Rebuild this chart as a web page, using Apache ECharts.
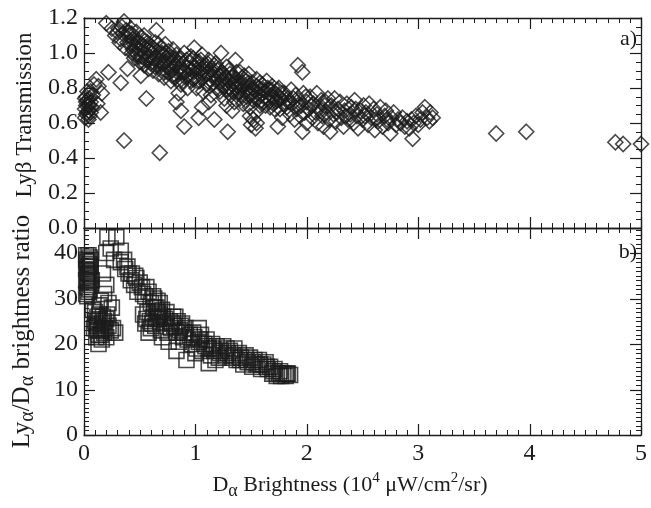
<!DOCTYPE html>
<html>
<head>
<meta charset="utf-8">
<script src="https://cdn.jsdelivr.net/npm/echarts@6/dist/echarts.min.js"></script>
<style>
  html, body { margin: 0; padding: 0; background: #ffffff; }
  #chart { width: 651px; height: 508px; }
</style>
</head>
<body>
<div id="chart"></div>
<script>
// Axis ticks
const brightnessTicks = [0, 1, 2, 3, 4, 5];
const transmissionTicks = [0.0, 0.2, 0.4, 0.6, 0.8, 1.0, 1.2];
const ratioTicks = [0, 10, 20, 30, 40];
const ratioMax = 45.5;

// Panel a) Ly-beta transmission vs D-alpha brightness [brightness, transmission]
const lybTransmission = [
  [0.01,0.68],[0.02,0.72],[0.03,0.66],[0.02,0.75],[0.04,0.70],[0.05,0.64],[0.03,0.78],[0.06,0.72],
  [0.01,0.63],[0.04,0.67],[0.05,0.74],[0.02,0.70],[0.07,0.69],[0.03,0.73],[0.06,0.66],[0.08,0.76],
  [0.04,0.62],[0.02,0.65],[0.05,0.70],[0.01,0.74],
  [0.06,0.78],[0.11,0.85],[0.13,0.81],[0.16,0.77],[0.15,0.66],[0.09,0.82],[0.12,0.71],[0.22,0.89],
  [0.33,0.83],[0.39,0.91],[0.51,0.87],[0.56,0.74],[0.36,0.50],[0.68,0.43],
  [0.20,1.17],[0.28,1.10],[0.30,1.12],[0.33,1.08],[0.36,1.18],[0.38,1.13],[0.39,1.06],[0.42,1.14],
  [0.25,1.14],[0.34,1.15],[0.41,1.10],[0.37,1.03],[0.31,1.14],[0.35,1.11],[0.40,1.12],[0.43,1.11],
  [0.45,1.05],[0.32,1.06],
  [0.42,1.05],[0.43,1.00],[0.44,1.08],[0.45,0.97],[0.46,1.03],[0.47,1.12],[0.48,0.99],[0.49,1.06],
  [0.50,0.95],[0.50,1.02],[0.51,1.09],[0.52,0.98],[0.53,1.04],[0.54,0.93],[0.54,1.10],[0.55,1.00],
  [0.56,0.96],[0.57,1.06],[0.58,0.91],[0.58,1.02],[0.59,0.98],[0.60,1.04],[0.60,0.94],
  [0.44,1.02],[0.46,0.99],[0.48,1.07],[0.50,0.98],[0.52,1.05],[0.53,0.95],[0.55,1.07],[0.57,0.97],
  [0.59,1.03],
  [0.61,1.00],[0.62,0.90],[0.63,0.97],[0.64,1.06],[0.65,1.13],[0.65,0.93],[0.66,1.01],[0.67,0.88],
  [0.68,0.96],[0.69,1.03],[0.70,0.91],[0.71,0.99],[0.72,0.86],[0.72,0.94],[0.73,1.05],[0.74,0.97],
  [0.75,0.89],[0.76,1.01],[0.77,0.93],[0.78,0.84],[0.78,0.98],[0.79,0.90],[0.80,0.95],[0.80,1.02],
  [0.61,0.95],[0.62,1.03],[0.64,0.92],[0.66,0.97],[0.67,1.05],[0.69,0.94],[0.70,1.00],[0.71,0.89],
  [0.73,0.95],[0.74,1.00],[0.76,0.92],[0.77,0.97],[0.79,0.87],
  [0.81,0.88],[0.82,0.93],[0.83,0.99],[0.84,0.85],[0.85,0.91],[0.86,0.96],[0.87,0.82],[0.88,0.89],
  [0.89,0.94],[0.90,1.00],[0.91,0.86],[0.92,0.92],[0.93,0.80],[0.94,0.88],[0.95,0.95],[0.96,0.84],
  [0.97,0.90],[0.98,0.97],[0.99,1.03],[1.00,0.86],[1.00,0.92],
  [0.81,0.97],[0.82,0.86],[0.84,0.94],[0.86,0.89],[0.87,0.97],[0.89,0.84],[0.90,0.90],[0.92,0.96],
  [0.93,0.87],[0.95,0.91],[0.96,0.98],[0.98,0.85],[0.99,0.92],
  [0.83,0.72],[0.87,0.67],[0.90,0.58],[0.85,0.77],
  [1.01,0.80],[1.02,0.89],[1.03,0.95],[1.04,0.84],[1.05,0.91],[1.06,0.99],[1.07,0.78],[1.08,0.87],
  [1.09,0.93],[1.10,0.82],[1.11,0.89],[1.12,0.96],[1.13,0.85],[1.14,0.76],[1.15,0.91],[1.16,0.83],
  [1.17,0.88],[1.18,0.94],[1.19,0.80],[1.20,0.86],
  [1.01,0.95],[1.02,0.84],[1.04,0.90],[1.05,0.96],[1.07,0.86],[1.08,0.92],[1.10,0.88],[1.11,0.94],
  [1.13,0.81],[1.14,0.90],[1.16,0.87],[1.17,0.93],[1.19,0.84],[1.20,0.90],
  [1.03,0.63],[1.06,0.69],[1.17,0.62],[1.12,0.72],[1.23,1.00],
  [1.21,0.91],[1.22,0.78],[1.23,0.84],[1.24,0.89],[1.25,0.81],[1.26,0.74],[1.27,0.86],[1.28,0.92],
  [1.29,0.79],[1.30,0.84],[1.31,0.88],[1.32,0.76],[1.33,0.82],[1.34,0.87],[1.35,0.72],[1.36,0.96],
  [1.36,0.80],[1.37,0.85],[1.38,0.77],[1.39,0.83],[1.40,0.89],[1.40,0.74],
  [1.22,0.87],[1.24,0.82],[1.25,0.88],[1.27,0.79],[1.28,0.85],[1.30,0.90],[1.31,0.80],[1.33,0.86],
  [1.34,0.78],[1.35,0.83],[1.37,0.89],[1.38,0.81],[1.39,0.78],
  [1.29,0.55],[1.33,0.67],[1.28,0.70],
  [1.41,0.81],[1.42,0.86],[1.43,0.71],[1.44,0.78],[1.45,0.84],[1.46,0.75],[1.47,0.80],[1.48,0.88],
  [1.49,0.69],[1.50,0.77],[1.51,0.83],[1.52,0.73],[1.53,0.79],[1.54,0.66],[1.55,0.85],[1.56,0.74],
  [1.57,0.80],[1.58,0.70],[1.59,0.76],[1.60,0.82],
  [1.41,0.76],[1.42,0.82],[1.44,0.87],[1.45,0.73],[1.46,0.79],[1.48,0.83],[1.49,0.76],[1.51,0.80],
  [1.53,0.75],[1.55,0.81],[1.56,0.77],[1.58,0.83],[1.59,0.73],
  [1.50,0.59],[1.52,0.62],[1.54,0.57],[1.55,0.60],[1.49,0.64],
  [1.61,0.72],[1.62,0.78],[1.63,0.70],[1.64,0.84],[1.65,0.74],[1.66,0.79],[1.67,0.69],[1.68,0.76],
  [1.69,0.81],[1.70,0.71],[1.71,0.68],[1.72,0.77],[1.73,0.73],[1.74,0.58],[1.75,0.80],[1.76,0.68],
  [1.77,0.74],[1.78,0.63],[1.79,0.71],[1.80,0.77],
  [1.61,0.79],[1.63,0.75],[1.65,0.80],[1.66,0.72],[1.68,0.79],[1.70,0.75],[1.72,0.72],[1.74,0.79],
  [1.76,0.74],[1.78,0.77],[1.80,0.72],
  [1.82,0.69],[1.83,0.74],[1.85,0.65],[1.86,0.79],[1.87,0.71],[1.89,0.62],[1.90,0.76],[1.91,0.68],
  [1.92,0.93],[1.93,0.73],[1.94,0.64],[1.95,0.70],[1.96,0.89],[1.96,0.55],[1.97,0.77],[1.98,0.66],
  [2.00,0.72],[2.00,0.60],[1.84,0.72],[1.88,0.74],[1.92,0.70],[1.99,0.75],
  [2.02,0.68],[2.03,0.75],[2.05,0.63],[2.06,0.71],[2.08,0.66],[2.09,0.77],[2.10,0.60],[2.11,0.69],
  [2.13,0.73],[2.14,0.64],[2.15,0.58],[2.16,0.70],[2.18,0.66],[2.19,0.74],[2.20,0.62],[2.21,0.55],
  [2.04,0.70],[2.12,0.67],[2.17,0.72],
  [2.22,0.70],[2.24,0.65],[2.25,0.74],[2.26,0.61],[2.28,0.68],[2.30,0.72],[2.31,0.63],[2.33,0.58],
  [2.34,0.67],[2.36,0.71],[2.37,0.62],[2.39,0.65],[2.40,0.69],[2.42,0.60],[2.43,0.73],[2.45,0.64],
  [2.46,0.57],[2.48,0.67],[2.27,0.66],[2.35,0.64],[2.44,0.68],
  [2.50,0.62],[2.51,0.70],[2.53,0.66],[2.55,0.59],[2.56,0.71],[2.58,0.63],[2.60,0.68],[2.61,0.56],
  [2.63,0.65],[2.64,0.61],[2.66,0.69],[2.68,0.58],[2.70,0.64],[2.71,0.67],[2.73,0.60],[2.75,0.54],
  [2.76,0.63],[2.78,0.66],[2.80,0.59],[2.82,0.62],[2.52,0.64],[2.62,0.62],[2.72,0.62],
  [2.86,0.63],[2.88,0.58],[2.90,0.61],[2.92,0.57],[2.95,0.51],[2.96,0.60],[2.98,0.64],[3.00,0.59],
  [3.02,0.62],[3.04,0.66],[3.06,0.69],[3.08,0.63],[3.10,0.61],[3.13,0.63],[3.11,0.66],[2.84,0.60],
  [2.94,0.62],
  [3.70,0.54],[3.97,0.55],[4.77,0.49],[4.84,0.48],[5.00,0.48]
];

// Panel b) Ly-alpha / D-alpha brightness ratio [brightness, ratio]
const lyaDaRatio = [
  [0.02,38.5],[0.03,36.0],[0.04,39.5],[0.02,34.0],[0.05,37.5],[0.03,32.5],[0.06,35.0],[0.04,33.5],
  [0.02,31.0],[0.05,39.0],[0.06,37.0],[0.03,38.0],[0.04,35.5],[0.07,34.0],[0.05,32.0],[0.02,36.5],
  [0.06,38.5],[0.03,30.5],[0.04,37.0],[0.03,34.5],[0.05,35.5],[0.02,39.5],[0.06,33.0],[0.04,31.5],
  [0.08,27.5],[0.10,25.0],[0.12,23.0],[0.14,26.5],[0.13,22.0],[0.16,24.5],[0.18,22.5],[0.20,25.5],
  [0.12,24.0],[0.15,23.0],[0.17,26.0],[0.11,21.5],[0.19,23.5],[0.22,24.0],[0.14,28.5],[0.21,26.5],
  [0.24,23.0],[0.10,27.0],[0.16,21.0],[0.09,23.5],[0.13,20.0],[0.20,21.5],[0.26,23.5],[0.28,22.5],
  [0.11,24.5],[0.13,25.5],[0.15,22.0],[0.17,23.5],[0.12,26.0],[0.18,25.0],
  [0.17,35.5],[0.20,33.0],[0.18,31.0],[0.22,29.0],[0.25,28.0],[0.15,29.5],
  [0.21,43.5],[0.29,43.5],[0.24,41.0],[0.33,40.5],[0.20,40.0],[0.27,38.5],[0.33,38.0],
  [0.37,36.5],[0.40,35.5],[0.42,34.0],[0.45,33.0],[0.47,34.5],[0.48,31.5],[0.52,32.5],[0.55,30.5],
  [0.58,31.5],[0.60,29.0],[0.63,30.0],[0.65,28.0],[0.68,29.0],[0.70,27.5],
  [0.36,38.5],[0.39,37.0],[0.43,35.5],[0.46,35.0],[0.50,33.5],[0.53,31.0],[0.56,32.5],[0.62,30.5],
  [0.66,29.5],
  [0.53,26.5],[0.55,24.5],[0.57,27.0],[0.59,25.0],[0.60,23.5],[0.62,26.0],[0.64,24.0],[0.66,27.0],
  [0.67,25.5],[0.69,23.0],[0.71,26.0],[0.72,24.5],[0.74,27.0],[0.75,22.5],[0.77,25.0],[0.78,23.5],
  [0.80,26.0],[0.81,24.0],[0.83,22.5],[0.84,25.0],[0.86,23.0],[0.88,24.5],[0.89,21.5],[0.91,23.5],
  [0.58,22.5],[0.63,28.0],[0.70,21.5],[0.76,20.5],[0.85,20.5],[0.93,21.0],
  [0.56,25.5],[0.61,24.5],[0.65,25.5],[0.68,26.5],[0.73,25.5],[0.79,24.5],[0.82,26.0],[0.87,24.0],
  [0.90,22.5],
  [0.83,18.5],[0.92,16.5],[1.12,15.8],
  [0.95,22.0],[0.97,20.0],[0.99,21.5],[1.01,19.0],[1.03,20.5],[1.05,22.0],[1.06,18.5],[1.08,20.0],
  [1.10,21.0],[1.12,19.0],[1.14,17.5],[1.15,20.0],[1.17,18.5],[1.19,19.5],[1.21,17.0],[1.23,18.5],
  [1.25,19.5],[1.27,17.5],[1.29,18.0],[1.00,18.0],[1.18,16.5],[1.03,23.5],
  [0.98,22.5],[1.04,21.0],[1.09,19.5],[1.16,19.0],[1.22,18.0],[1.28,19.0],
  [1.31,18.5],[1.33,17.0],[1.35,19.0],[1.37,16.5],[1.39,18.0],[1.41,17.0],[1.43,15.5],[1.45,17.5],
  [1.47,16.0],[1.49,17.0],[1.51,15.0],[1.53,16.5],[1.55,15.5],[1.57,16.5],[1.59,14.5],[1.61,15.5],
  [1.63,16.0],[1.65,14.5],[1.67,15.0],[1.69,13.5],[1.71,14.5],[1.73,13.0],[1.75,13.5],[1.77,13.0],
  [1.79,13.5],[1.81,13.0],[1.83,13.5],[1.85,13.2],
  [1.34,17.5],[1.40,16.5],[1.46,16.5],[1.52,16.0],[1.58,15.5],[1.64,15.0],[1.70,14.0],[1.76,14.0],
  [1.82,13.5]
];

const INK = '#1c1c1c';
const SERIF = 'Liberation Serif';

// The two plot frames share left/right edges and meet along one line.
const grids = [
  { left: 84, width: 557, top: 18, height: 210 },
  { left: 84, width: 557, top: 228, height: 207 }
];

// Frame axes: the lines and labels come from the axes, the inward tick
// marks are added afterwards from the same axis scales.
function baseAxis(extra) {
  return Object.assign({
    type: 'value',
    axisLine: { show: true, onZero: false, lineStyle: { color: INK, width: 1.3 } },
    axisTick: { show: false },
    minorTick: { show: false },
    splitLine: { show: false },
    minorSplitLine: { show: false },
    axisLabel: { show: false }
  }, extra);
}
const tickLabel = { show: true, color: INK, fontFamily: SERIF, fontSize: 24 };

// Rich-text pieces for the Greek subscripts and the unit superscripts
function richStyles(size) {
  return {
    n:   { fontFamily: SERIF, fontSize: size, color: INK },
    sub: { fontFamily: SERIF, fontSize: Math.round(size * 0.8), color: INK, padding: [12, 0, 0, 0] },
    sup: { fontFamily: SERIF, fontSize: Math.round(size * 0.68), color: INK, padding: [0, 0, 14, 0] }
  };
}
function nameStyle(size, padding) {
  return { fontFamily: SERIF, fontSize: size, color: INK, padding: padding, rich: richStyles(size) };
}

const xRange = {
  min: brightnessTicks[0],
  max: brightnessTicks[brightnessTicks.length - 1],
  interval: brightnessTicks[1] - brightnessTicks[0]
};
const topY = {
  min: transmissionTicks[0],
  max: transmissionTicks[transmissionTicks.length - 1],
  interval: transmissionTicks[1] - transmissionTicks[0]
};
const botY = { min: ratioTicks[0], max: ratioMax, interval: ratioTicks[1] - ratioTicks[0] };

const xAxes = [
  baseAxis(Object.assign({ gridIndex: 0, position: 'bottom' }, xRange)),
  baseAxis(Object.assign({ gridIndex: 0, position: 'top' }, xRange)),
  baseAxis(Object.assign({
    gridIndex: 1, position: 'bottom',
    axisLabel: Object.assign({ margin: 7, formatter: v => String(Math.round(v)) }, tickLabel),
    name: '{n|D}{sub|α}{n| Brightness (10}{sup|4}{n| μW/cm}{sup|2}{n|/sr)}',
    nameLocation: 'middle', nameGap: 35,
    nameTextStyle: nameStyle(22, [0, 25, 0, 0])
  }, xRange)),
  baseAxis(Object.assign({ gridIndex: 1, position: 'top' }, xRange))
];
const yAxes = [
  baseAxis(Object.assign({
    gridIndex: 0, position: 'left',
    axisLabel: Object.assign({ margin: 6, formatter: v => v.toFixed(1) }, tickLabel),
    name: '{n|Lyβ Transmission}',
    nameLocation: 'middle', nameGap: 48,
    nameTextStyle: nameStyle(23, [0, 0, 0, 16])
  }, topY)),
  baseAxis(Object.assign({ gridIndex: 0, position: 'right' }, topY)),
  baseAxis(Object.assign({
    gridIndex: 1, position: 'left',
    axisLabel: Object.assign({ margin: 6, showMaxLabel: false, formatter: v => String(Math.round(v)) }, tickLabel),
    name: '{n|Ly}{sub|α}{n|/D}{sub|α}{n| brightness ratio}',
    nameLocation: 'middle', nameGap: 46,
    nameTextStyle: nameStyle(25, 0)
  }, botY)),
  baseAxis(Object.assign({ gridIndex: 1, position: 'right' }, botY))
];

const hollow = { color: 'rgba(0,0,0,0)', borderColor: INK, borderWidth: 1.6 };
const panelTag = { fontFamily: SERIF, fontSize: 22, fontWeight: 'normal', color: INK };

const option = {
  backgroundColor: '#ffffff',
  animation: false,
  title: [
    { text: 'a)', right: 14, top: 28, padding: 0, textStyle: panelTag },
    { text: 'b)', right: 14, top: 241, padding: 0, textStyle: panelTag }
  ],
  grid: grids,
  xAxis: xAxes,
  yAxis: yAxes,
  series: [
    { type: 'scatter', xAxisIndex: 0, yAxisIndex: 0, symbol: 'diamond', symbolSize: 15,
      itemStyle: hollow, data: lybTransmission },
    { type: 'scatter', xAxisIndex: 2, yAxisIndex: 2, symbol: 'rect', symbolSize: 15,
      itemStyle: hollow, data: lyaDaRatio }
  ]
};

const chart = echarts.init(document.getElementById('chart'));
chart.setOption(option);

// Inward major/minor tick marks on all four sides of each panel,
// placed through the axes' own value-to-pixel conversion.
const panels = [
  { xAxisIndex: 0, yAxisIndex: 0, yMin: topY.min, yMax: topY.max, yMajor: topY.interval, yMinor: topY.interval / 4 },
  { xAxisIndex: 2, yAxisIndex: 2, yMin: botY.min, yMax: botY.max, yMajor: botY.interval, yMinor: botY.interval / 10 }
];
const xMinorStep = xRange.interval / 10;
const MAJOR_LEN = 11, MINOR_LEN = 5;

function valuesAlong(min, max, step, major) {
  const out = [];
  for (let i = 0; ; i++) {
    const v = min + i * step;
    if (v > max + 1e-9) break;
    const r = v / major;
    out.push({ v: v, major: Math.abs(r - Math.round(r)) < 1e-6 });
  }
  return out;
}

function tickMarks() {
  const marks = [];
  const seg = (x1, y1, x2, y2, major) => marks.push({
    type: 'line', silent: true, z: 10,
    shape: { x1: x1, y1: y1, x2: x2, y2: y2 },
    style: { stroke: INK, lineWidth: major ? 1.2 : 1 }
  });
  const snap = p => Math.round(p) + 0.5;
  panels.forEach(p => {
    const xa = { xAxisIndex: p.xAxisIndex }, ya = { yAxisIndex: p.yAxisIndex };
    const left = chart.convertToPixel(xa, xRange.min);
    const right = chart.convertToPixel(xa, xRange.max);
    const bottom = chart.convertToPixel(ya, p.yMin);
    const top = chart.convertToPixel(ya, p.yMax);
    valuesAlong(xRange.min, xRange.max, xMinorStep, xRange.interval).forEach(t => {
      const x = snap(chart.convertToPixel(xa, t.v));
      const len = t.major ? MAJOR_LEN : MINOR_LEN;
      seg(x, bottom, x, bottom - len, t.major);
      seg(x, top, x, top + len, t.major);
    });
    valuesAlong(p.yMin, p.yMax, p.yMinor, p.yMajor).forEach(t => {
      const y = snap(chart.convertToPixel(ya, t.v));
      const len = t.major ? MAJOR_LEN : MINOR_LEN;
      seg(left, y, left + len, y, t.major);
      seg(right, y, right - len, y, t.major);
    });
  });
  return marks;
}

chart.setOption({ graphic: { elements: tickMarks() } });
</script>
</body>
</html>
